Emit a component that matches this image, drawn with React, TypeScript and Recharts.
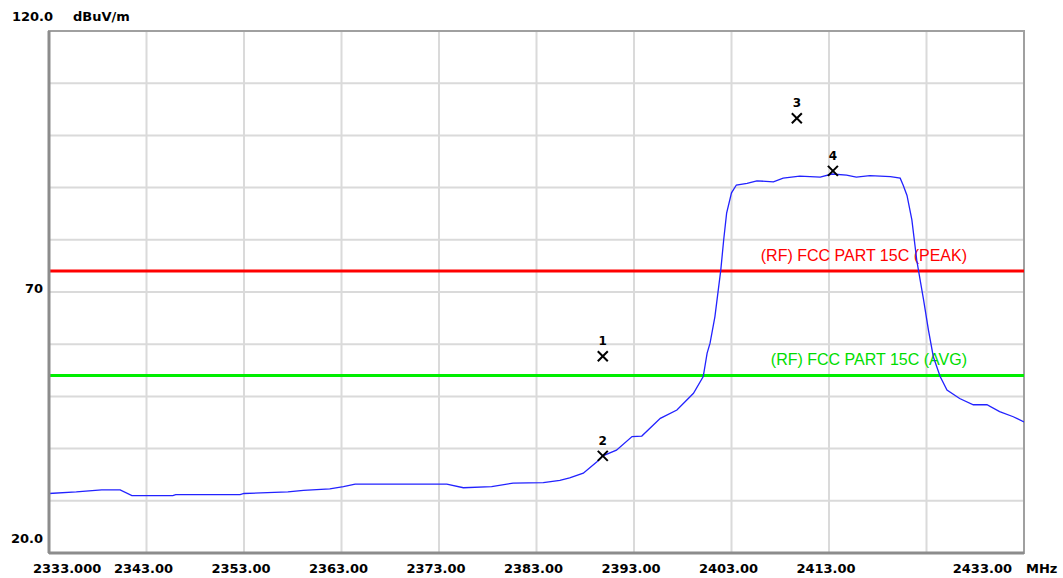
import { ComposedChart, Line, Scatter, XAxis, YAxis, CartesianGrid, ReferenceLine, ReferenceArea } from "recharts";

// trace (MHz / dBuV/m)
const FREQ = [
  2333.0, 2335.8, 2338.4, 2340.3, 2341.5, 2345.7, 2346.0, 2352.6, 2353.0, 2357.5,
  2359.1, 2361.8, 2363.2, 2364.4, 2373.8, 2375.5, 2378.4, 2380.6, 2383.7, 2385.4,
  2386.4, 2387.8, 2389.2, 2389.8, 2391.2, 2392.8, 2393.8, 2395.7, 2397.4, 2399.1,
  2400.1, 2400.5, 2400.8, 2401.3, 2401.9, 2402.2, 2402.5, 2403.0, 2403.5, 2404.6,
  2405.6, 2407.3, 2408.3, 2410.0, 2412.1, 2413.3, 2414.8, 2415.8, 2417.2, 2419.3,
  2420.3, 2420.6, 2421.0, 2421.5, 2422.0, 2422.2, 2422.7, 2423.2, 2423.7, 2424.4,
  2425.1, 2426.4, 2427.8, 2429.2, 2430.5, 2431.9, 2433.0,
];
const LEVEL = [
  31.4, 31.7, 32.1, 32.1, 31.0, 31.0, 31.2, 31.2, 31.4, 31.7,
  32.0, 32.3, 32.7, 33.2, 33.2, 32.5, 32.7, 33.4, 33.5, 33.9,
  34.4, 35.3, 37.5, 38.6, 39.7, 42.3, 42.4, 45.8, 47.4, 50.6,
  53.8, 58.3, 60.2, 65.3, 74.2, 80.0, 85.1, 89.0, 90.5, 90.8,
  91.3, 91.1, 91.8, 92.2, 92.0, 92.6, 92.4, 92.0, 92.3, 92.1,
  91.8, 90.5, 88.5, 83.8, 76.1, 73.9, 68.5, 62.7, 57.6, 53.8,
  51.2, 49.6, 48.4, 48.4, 47.1, 46.1, 45.1,
];

const MARKER_NO = ["1", "2", "3", "4"];
const MARKER_FREQ = [2389.8, 2389.8, 2409.7, 2413.4];
const MARKER_LEVEL = [57.7, 38.6, 103.3, 93.2];

const PEAK_LIMIT = 74;
const AVG_LIMIT = 54;
const PEAK_LABEL = "(RF) FCC PART 15C (PEAK)";
const AVG_LABEL = "(RF) FCC PART 15C (AVG)";

const X_TICKS = [2333, 2343, 2353, 2363, 2373, 2383, 2393, 2403, 2413, 2423, 2433];
const Y_TICKS = [20, 30, 40, 50, 60, 70, 80, 90, 100, 110, 120];

const trace = FREQ.map((f, i) => ({ freq: f, level: LEVEL[i] }));
const markers = MARKER_NO.map((n, i) => ({ freq: MARKER_FREQ[i], level: MARKER_LEVEL[i], no: n }));

const AXIS_FONT = { fontFamily: "DejaVu Sans", fontWeight: 700, fontSize: 13, fill: "#000" };

function XTick({ x, y, payload }: any) {
  const v = payload.value;
  if (v === 2423) return null;
  if (v === 2333) {
    return <text x={x - 16} y={y + 20} textAnchor="start" {...AXIS_FONT}>2333.000</text>;
  }
  if (v === 2433) {
    return (
      <g>
        <text x={x - 12} y={y + 20} textAnchor="end" {...AXIS_FONT}>2433.00</text>
        <text x={x + 2} y={y + 20} textAnchor="start" {...AXIS_FONT}>MHz</text>
      </g>
    );
  }
  return <text x={x - 3} y={y + 20} textAnchor="middle" {...AXIS_FONT}>{v.toFixed(2)}</text>;
}

function YTick({ x, y, payload }: any) {
  const v = payload.value;
  if (v === 120) {
    return (
      <g>
        <text x={x + 4} y={y - 10} textAnchor="end" {...AXIS_FONT}>120.0</text>
        <text x={x + 24} y={y - 10} textAnchor="start" {...AXIS_FONT}>dBuV/m</text>
      </g>
    );
  }
  if (v === 70) return <text x={x - 6} y={y + 1} textAnchor="end" {...AXIS_FONT}>70</text>;
  if (v === 20) return <text x={x - 6} y={y - 10} textAnchor="end" {...AXIS_FONT}>20.0</text>;
  return null;
}

function limitLabel(text: string, color: string, dy: number) {
  return ({ viewBox }: any) => (
    <text
      x={viewBox.x + viewBox.width - 57}
      y={viewBox.y - dy}
      textAnchor="end"
      fontFamily="Liberation Sans"
      fontSize={16}
      fill={color}
    >
      {text}
    </text>
  );
}

function MarkerShape({ cx, cy, payload }: any) {
  const s = 5;
  return (
    <g>
      <line x1={cx - s} y1={cy - s} x2={cx + s} y2={cy + s} stroke="#000" strokeWidth={2} />
      <line x1={cx - s} y1={cy + s} x2={cx + s} y2={cy - s} stroke="#000" strokeWidth={2} />
      <text x={cx} y={cy - 11} textAnchor="middle" fontFamily="DejaVu Sans" fontWeight={700} fontSize={12} fill="#000">
        {payload.no}
      </text>
    </g>
  );
}

export default function App() {
  return (
    <div style={{ position: "absolute", left: 0, top: 0, width: 1063, height: 578, background: "#fff" }}>
      <ComposedChart width={1063} height={578} margin={{ top: 31, right: 39, bottom: 0, left: 0 }}>
        <CartesianGrid stroke="#dadada" strokeWidth={2} />
        <XAxis
          type="number"
          dataKey="freq"
          domain={[2333, 2433]}
          ticks={X_TICKS}
          allowDataOverflow
          height={25}
          tickSize={0}
          tickMargin={0}
          tickLine={false}
          axisLine={{ stroke: "#8c8c8c", strokeWidth: 3 }}
          tick={<XTick />}
          interval={0}
        />
        <YAxis
          type="number"
          dataKey="level"
          domain={[20, 120]}
          ticks={Y_TICKS}
          allowDataOverflow
          width={49}
          tickSize={0}
          tickMargin={0}
          tickLine={false}
          axisLine={{ stroke: "#8c8c8c", strokeWidth: 3 }}
          tick={<YTick />}
          interval={0}
        />
        <ReferenceLine y={PEAK_LIMIT} stroke="#ff0000" strokeWidth={3} label={limitLabel(PEAK_LABEL, "#ff0000", 10)} />
        <ReferenceLine y={AVG_LIMIT} stroke="#00ee00" strokeWidth={3} label={limitLabel(AVG_LABEL, "#00dd00", 11)} />
        <Line
          data={trace}
          type="linear"
          dataKey="level"
          stroke="#2222ff"
          strokeWidth={1.3}
          dot={false}
          isAnimationActive={false}
        />
        <Scatter data={markers} dataKey="level" shape={<MarkerShape />} isAnimationActive={false} />
        <ReferenceArea x1={2333} x2={2433} y1={20} y2={120} fill="none" stroke="#a0a0a0" strokeWidth={2} />
      </ComposedChart>
    </div>
  );
}
